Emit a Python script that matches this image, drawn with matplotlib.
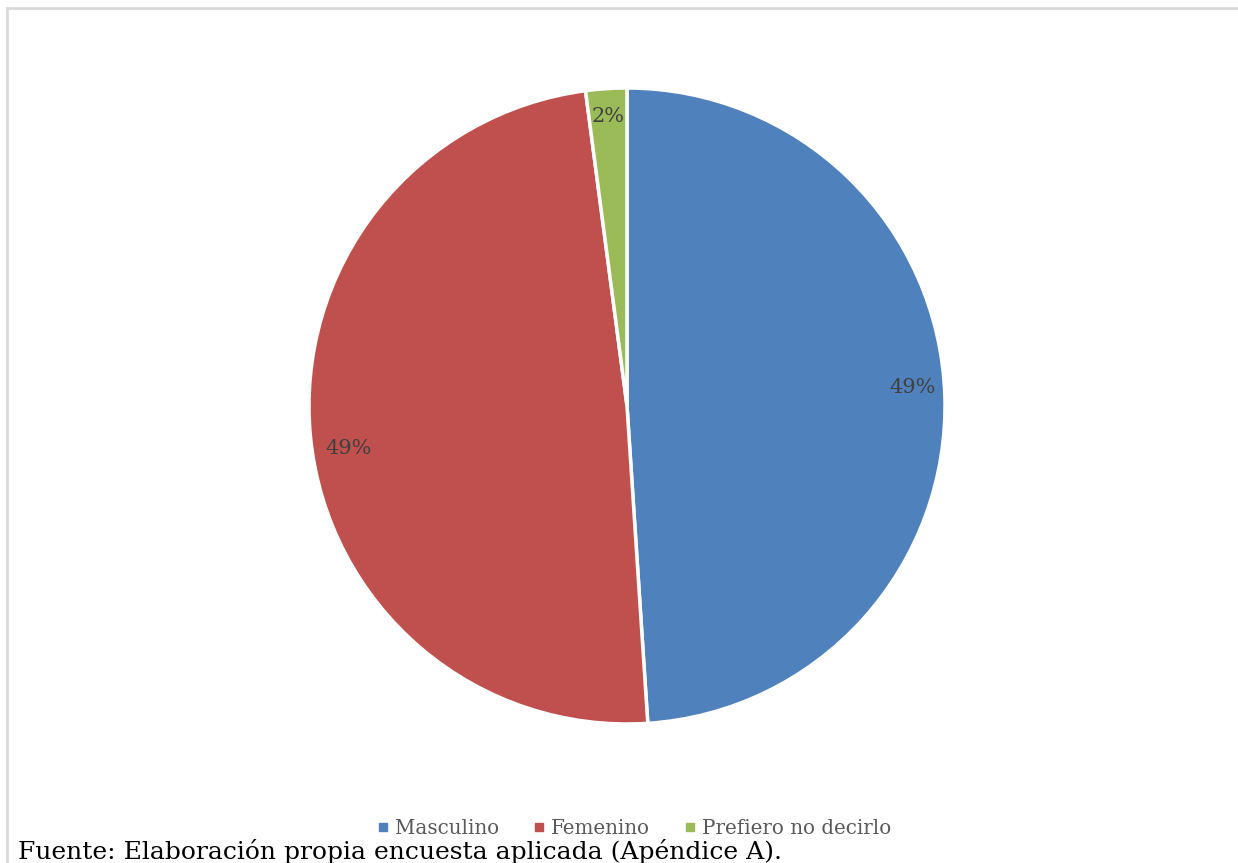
import matplotlib
matplotlib.use("Agg")
import matplotlib.pyplot as plt
from matplotlib.patches import Rectangle
from matplotlib.lines import Line2D

categories = ["Masculino", "Femenino", "Prefiero no decirlo"]
counts = [47, 47, 2]
colors = ["#4F81BD", "#C0504D", "#9BBB59"]
caption = "Fuente: Elaboración propia encuesta aplicada (Apéndice A)."

W, H = 1238, 863
fig = plt.figure(figsize=(W / 100, H / 100), dpi=100)
fig.patch.set_facecolor("white")

# chart frame (light gray border)
fig.add_artist(Rectangle((7 / W, -0.1), 1.2, (H - 8) / H + 0.1,
                         transform=fig.transFigure, fill=False,
                         edgecolor="#D9D9D9", linewidth=2))

cx, cy, r = 627, 406, 318
ax = fig.add_axes([(cx - r) / W, (H - cy - r) / H, 2 * r / W, 2 * r / H])
wedges, texts, autotexts = ax.pie(
    counts, colors=colors, startangle=90, counterclock=False,
    autopct=lambda p: f"{p:.0f}%", pctdistance=0.9,
    wedgeprops=dict(edgecolor="white", linewidth=2.5),
    textprops=dict(color="#404040", fontsize=15, family="DejaVu Serif"),
)
ax.set_aspect("equal")
ax.set_xlim(-1, 1)
ax.set_ylim(-1, 1)
ax.axis("off")

# nudge the percentage labels slightly (axes data units)
offsets = [(0.0, 0.03), (0.02, -0.045), (0.0, 0.012)]
for t, (dx, dy) in zip(autotexts, offsets):
    x, y = t.get_position()
    t.set_position((x + dx, y + dy))

handles = [Line2D([], [], marker="s", linestyle="none", markersize=6,
                  markerfacecolor=c, markeredgecolor=c) for c in colors]
fig.legend(handles, categories, loc="center", bbox_to_anchor=(633 / W, 1 - 828 / H),
           ncol=3, frameon=False, prop=dict(family="DejaVu Serif", size=14.3),
           labelcolor="#595959", handletextpad=0.2, columnspacing=1.6,
           handlelength=0.8)

fig.text(18 / W, 1 - 851 / H, caption, ha="left", va="center",
         fontsize=18, family="DejaVu Serif", color="black")

fig.savefig("out.png", dpi=100)
